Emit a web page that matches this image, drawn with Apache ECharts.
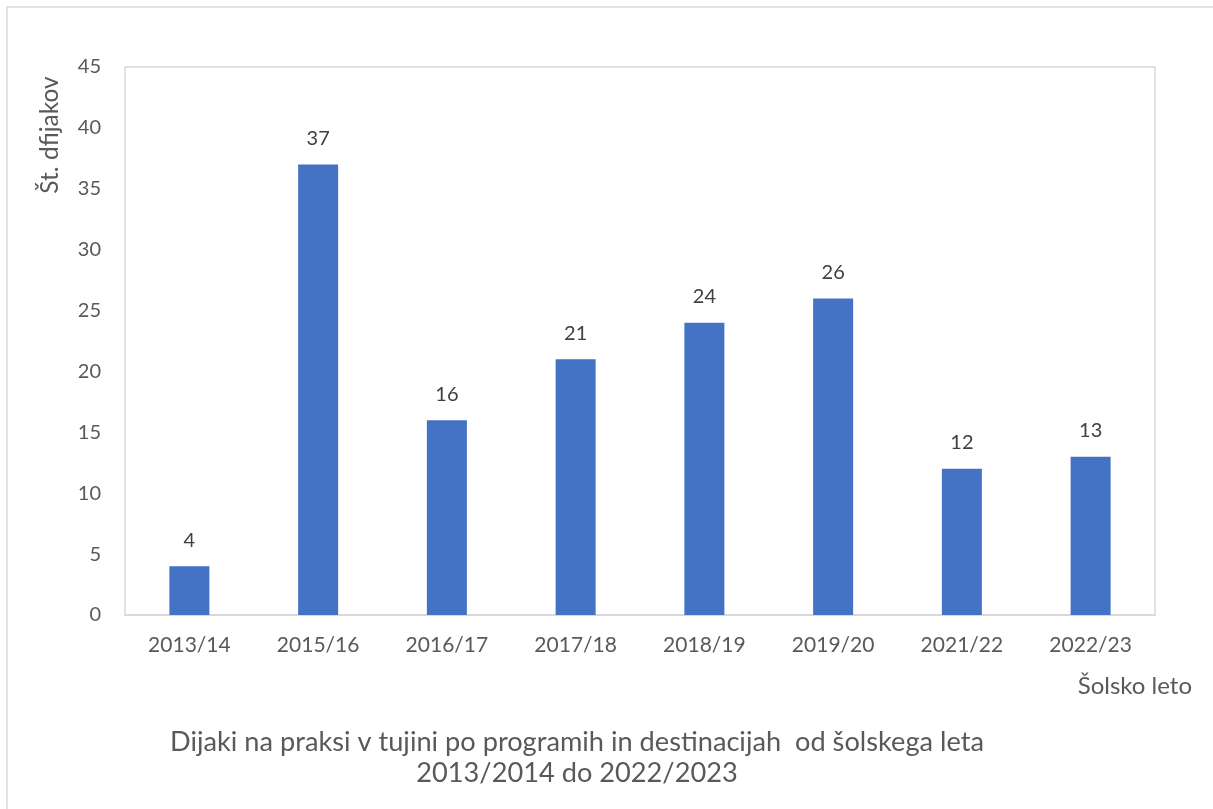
<!DOCTYPE html>
<html>
<head>
<meta charset="utf-8">
<script src="https://cdn.jsdelivr.net/npm/echarts@6/dist/echarts.min.js"></script>
<style>
    html, body { margin: 0; padding: 0; background: #fff; }
    #chart { width: 1213px; height: 809px; }
</style>
</head>
<body>
<div id="chart"></div>
<script>
// data
var years = ['2013/14', '2015/16', '2016/17', '2017/18', '2018/19', '2019/20', '2021/22', '2022/23'];
var students = [4, 37, 16, 21, 24, 26, 12, 13];
var yTicks = [0, 5, 10, 15, 20, 25, 30, 35, 40, 45];

var font = 'Lato';
var grey = '#595959';

var chart = echarts.init(document.getElementById('chart'));
var option = {
    animation: false,
    backgroundColor: '#fff',
    textStyle: { fontFamily: font },
    grid: {
        left: 125,
        top: 67,
        width: 1030,
        height: 548,
        show: true,
        borderColor: '#d9d9d9',
        borderWidth: 1.5
    },
    title: {
        text: 'Dijaki na praksi v tujini po programih in destinacijah  od šolskega leta\n2013/2014 do 2022/2023',
        left: 577,
        textAlign: 'center',
        top: 727,
        padding: 0,
        textStyle: { fontFamily: font, fontSize: 27.2, fontWeight: 'normal', color: grey, lineHeight: 31 }
    },
    xAxis: {
        type: 'category',
        data: years,
        axisLine: { lineStyle: { color: '#d9d9d9', width: 2 } },
        axisTick: { show: false },
        axisLabel: { color: grey, fontSize: 21, margin: 20, fontFamily: font },
        name: 'Šolsko leto',
        nameLocation: 'end',
        nameGap: 0,
        nameTextStyle: {
            color: grey, fontSize: 24, fontFamily: font,
            align: 'right', verticalAlign: 'top', padding: [59, -37, 0, 0]
        }
    },
    yAxis: {
        type: 'value',
        min: yTicks[0],
        max: yTicks[yTicks.length - 1],
        interval: yTicks[1] - yTicks[0],
        splitLine: { show: false },
        axisLine: { show: false },
        axisTick: { show: false },
        axisLabel: { color: grey, fontSize: 20, margin: 24, fontFamily: font }
    },
    graphic: [
        {
            type: 'rect',
            shape: { x: 7, y: 7, width: 1230, height: 830 },
            style: { fill: 'none', stroke: '#d9d9d9', lineWidth: 1.5 },
            silent: true
        },
        {
            type: 'text',
            x: 50,
            y: 135,
            rotation: Math.PI / 2,
            style: {
                text: 'Št. dfijakov',
                fontFamily: font,
                fontSize: 24.5,
                fill: grey,
                align: 'center',
                verticalAlign: 'middle'
            }
        }
    ],
    series: [{
        type: 'bar',
        data: students,
        barWidth: 40,
        itemStyle: { color: '#4472C4' },
        label: {
            show: true,
            position: 'top',
            distance: 16,
            color: '#404040',
            fontSize: 20,
            fontFamily: font
        }
    }]
};
chart.setOption(option);
</script>
</body>
</html>
